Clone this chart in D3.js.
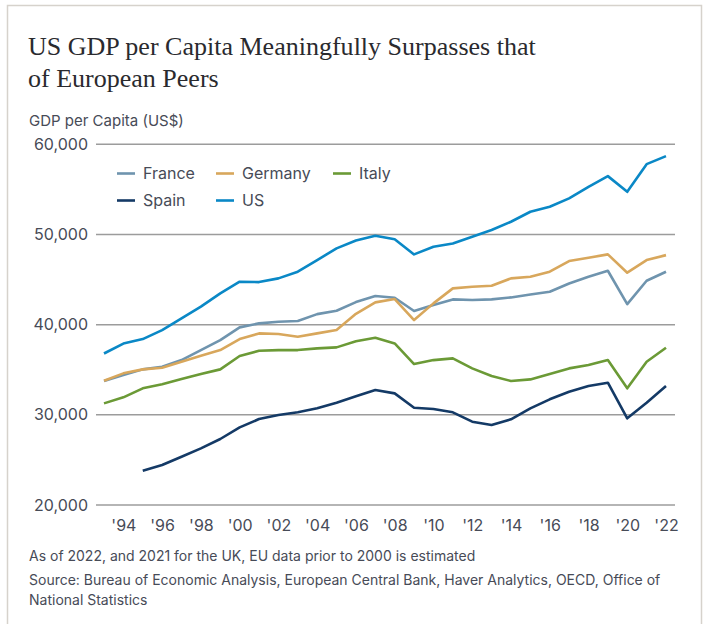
<!DOCTYPE html>
<html>
<head>
<meta charset="utf-8">
<script src="https://cdn.jsdelivr.net/npm/d3@7/dist/d3.min.js"></script>
<style>
  html, body { margin: 0; padding: 0; background: #fff; }
  svg { display: block; }
</style>
</head>
<body>
<div id="chart"></div>
<script>
// ---- dados ----
const years = d3.range(1993, 2023);
const spainYears = d3.range(1995, 2023);

const usGdp = [36800, 37900, 38400, 39400, 40700, 42000, 43470, 44760, 44720, 45130,
  45870, 47160, 48460, 49330, 49850, 49480, 47790, 48640, 49000, 49740,
  50490, 51410, 52520, 53070, 54000, 55290, 56470, 54730, 57800, 58690];
const franceGdp = [33750, 34410, 35040, 35330, 36070, 37180, 38290, 39700, 40140, 40320,
  40400, 41170, 41540, 42500, 43170, 42980, 41510, 42170, 42800, 42730,
  42800, 43020, 43350, 43650, 44570, 45310, 45980, 42280, 44870, 45870];
const germanyGdp = [33780, 34600, 35040, 35220, 35890, 36550, 37180, 38400, 39030, 38960,
  38660, 39030, 39400, 41200, 42470, 42840, 40510, 42360, 44020, 44210,
  44320, 45130, 45310, 45870, 47050, 47420, 47790, 45760, 47160, 47710];
const italyGdp = [31270, 31940, 32940, 33380, 33970, 34520, 35040, 36520, 37110, 37180,
  37180, 37370, 37480, 38150, 38550, 37920, 35630, 36070, 36260, 35150,
  34300, 33750, 33930, 34520, 35150, 35520, 36070, 32940, 35890, 37440];
const spainGdp = [23800, 24430, 25350, 26280, 27320, 28610, 29530, 29980, 30280, 30720,
  31340, 32060, 32750, 32380, 30790, 30640, 30280, 29240, 28870, 29500,
  30720, 31720, 32560, 33190, 33560, 29610, 31340, 33190];

const yTicks = [20000, 30000, 40000, 50000, 60000];
const xTicks = d3.range(1994, 2023, 2);

const seriesNames = ['France', 'Germany', 'Italy', 'Spain', 'US'];
const seriesColors = ['#6f94ae', '#d8a75c', '#6b9a36', '#143a66', '#0a88c6'];

// ---- layout ----
const W = 705, H = 624;
const x = d3.scaleLinear().domain([1993, 2022]).range([104, 666]);
const y = d3.scaleLinear().domain([20000, 60000]).range([505, 144.3]);
const sansFont = 'Inter, "Liberation Sans", Arial, sans-serif';
const txt = '#474b57';

const svg = d3.select('#chart').append('svg').attr('width', W).attr('height', H);

// moldura
svg.append('rect')
  .attr('x', 7.5).attr('y', 5.5).attr('width', 694).attr('height', 640)
  .attr('fill', 'none').attr('stroke', '#d6d2cc').attr('stroke-width', 1.5);

// título (serifada)
const title = svg.append('text')
  .attr('font-family', '"Liberation Serif", "DejaVu Serif", serif')
  .attr('font-size', 26).attr('fill', '#2a2a2e');
title.append('tspan').attr('x', 28).attr('y', 55).text('US GDP per Capita Meaningfully Surpasses that');
title.append('tspan').attr('x', 28).attr('y', 87).text('of European Peers');

// ajusta a largura do título para bater com o original (~508px)
(function fitWidth(sel, target) {
  const n = sel.select('tspan').node().getComputedTextLength();
  if (n > 0) sel.attr('font-size', 26 * target / n);
})(title, 508);

svg.append('text')
  .attr('x', 29).attr('y', 126)
  .attr('font-family', sansFont).attr('font-size', 15).attr('fill', txt)
  .text('GDP per Capita (US$)');

// grade + eixo y
const yAxis = d3.axisLeft(y).tickValues(yTicks).tickSize(0).tickPadding(8)
  .tickFormat(d3.format(','));
const gy = svg.append('g').attr('transform', 'translate(96,0)').call(yAxis);
gy.select('.domain').remove();
gy.selectAll('text')
  .attr('font-family', sansFont).attr('font-size', 16).attr('fill', txt);

svg.append('g').selectAll('line').data(yTicks).join('line')
  .attr('x1', 96).attr('x2', 675)
  .attr('y1', (d) => y(d)).attr('y2', (d) => y(d))
  .attr('stroke', '#9c9c9c').attr('stroke-width', 1.5);

// eixo x
const xAxis = d3.axisBottom(x).tickValues(xTicks).tickSize(0).tickPadding(0)
  .tickFormat((d) => "'" + String(d).slice(2));
const gx = svg.append('g').attr('transform', 'translate(0,520)').call(xAxis);
gx.select('.domain').remove();
gx.selectAll('text')
  .attr('font-family', sansFont).attr('font-size', 16).attr('fill', txt)
  .attr('dy', '0.71em');

// linhas
const line = d3.line().x((d) => x(d[0])).y((d) => y(d[1]));
const series = [
  { name: 'France', yrs: years, vals: franceGdp },
  { name: 'Germany', yrs: years, vals: germanyGdp },
  { name: 'Italy', yrs: years, vals: italyGdp },
  { name: 'Spain', yrs: spainYears, vals: spainGdp },
  { name: 'US', yrs: years, vals: usGdp },
];
const color = d3.scaleOrdinal().domain(seriesNames).range(seriesColors);

svg.append('g').selectAll('path').data(series).join('path')
  .attr('d', (s) => line(s.yrs.map((yr, i) => [yr, s.vals[i]])))
  .attr('fill', 'none')
  .attr('stroke', (s) => color(s.name))
  .attr('stroke-width', 2.6)
  .attr('stroke-linejoin', 'round');

// legenda (2 linhas: France/Germany/Italy, Spain/US)
const legendCols = [117, 216, 333];
const legendRows = [173.5, 200.5];
const leg = svg.append('g').selectAll('g').data(seriesNames).join('g')
  .attr('transform', (d, i) => `translate(${legendCols[i % 3]},${legendRows[Math.floor(i / 3)]})`);
leg.append('line')
  .attr('x1', 0).attr('x2', 18)
  .attr('stroke', (d) => color(d)).attr('stroke-width', 2.6);
leg.append('text')
  .attr('x', 26).attr('dy', '0.36em')
  .attr('font-family', sansFont).attr('font-size', 16).attr('fill', txt)
  .text((d) => d);

// notas
const notes = [
  ['As of 2022, and 2021 for the UK, EU data prior to 2000 is estimated', 561],
  ['Source: Bureau of Economic Analysis, European Central Bank, Haver Analytics, OECD, Office of', 585],
  ['National Statistics', 605],
];
svg.append('g').selectAll('text').data(notes).join('text')
  .attr('x', 29).attr('y', (d) => d[1])
  .attr('font-family', sansFont).attr('font-size', 14).attr('fill', txt)
  .text((d) => d[0]);
</script>
</body>
</html>
